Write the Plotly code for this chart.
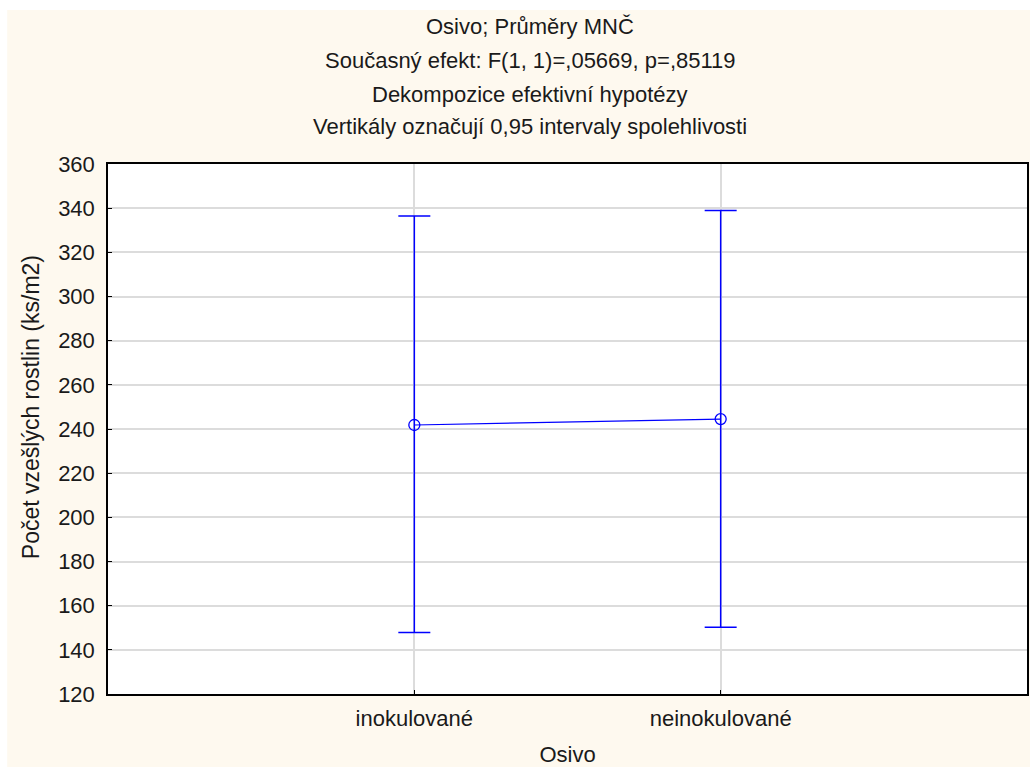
import plotly.graph_objects as go

categories = ["inokulované", "neinokulované"]
means = [241.8, 244.5]
ci_lower = [147.8, 150.2]
ci_upper = [336.5, 339.0]
yticks = [120, 140, 160, 180, 200, 220, 240, 260, 280, 300, 320, 340, 360]

title_lines = [
    "Osivo; Průměry MNČ",
    "Současný efekt: F(1, 1)=,05669, p=,85119",
    "Dekompozice efektivní hypotézy",
    "Vertikály označují 0,95 intervaly spolehlivosti",
]
y_title = "Počet vzešlých rostlin (ks/m2)"
x_title = "Osivo"

BLUE = "#0000FF"
BEIGE = "#FEF9EF"
FONT = "Liberation Sans, Arial, sans-serif"
TXT = "#1a1a1a"

xpos = list(range(len(categories)))
fig = go.Figure()
fig.add_trace(go.Scatter(
    x=xpos, y=means, mode="lines+markers",
    line=dict(color=BLUE, width=1.2),
    marker=dict(symbol="circle-open", size=11, color=BLUE, line=dict(width=1.3)),
    error_y=dict(type="data", symmetric=False,
                 array=[u - m for u, m in zip(ci_upper, means)],
                 arrayminus=[m - l for m, l in zip(means, ci_lower)],
                 color=BLUE, thickness=1.5, width=16),
    showlegend=False,
))

W, H = 1030, 767
L, R, T, B = 108, 1, 164, 73
pw, ph = W - L - R, H - T - B

def px2x(p):
    return (p - L) / pw

def px2y(p):
    return (H - B - p) / ph

shapes = [
    dict(type="rect", xref="paper", yref="paper", layer="below",
         x0=px2x(7), x1=px2x(1040), y0=px2y(780), y1=px2y(10),
         fillcolor=BEIGE, line=dict(width=0)),
    dict(type="rect", xref="paper", yref="paper", layer="below",
         x0=0, x1=1, y0=0, y1=1, fillcolor="white", line=dict(width=0)),
]

annotations = []
line_y = [27, 61, 94, 127]
for txt, yy in zip(title_lines, line_y):
    annotations.append(dict(
        text=txt, xref="paper", yref="paper", x=px2x(531), y=px2y(yy),
        xanchor="center", yanchor="middle", showarrow=False,
        font=dict(family=FONT, size=22, color=TXT),
    ))
annotations.append(dict(
    text=y_title, xref="paper", yref="paper", x=px2x(31), y=px2y(407),
    xanchor="center", yanchor="middle", textangle=-90, showarrow=False,
    font=dict(family=FONT, size=23, color=TXT),
))

fig.update_layout(
    width=W, height=H,
    margin=dict(l=L, r=R, t=T, b=B, pad=0),
    paper_bgcolor="white", plot_bgcolor="white",
    shapes=shapes, annotations=annotations,
    font=dict(family=FONT, size=22, color=TXT),
)
fig.update_xaxes(
    range=[-1, 2], tickmode="array", tickvals=xpos, ticktext=categories,
    showgrid=True, gridcolor="#DCDCDC", gridwidth=1.5,
    showline=True, linecolor="black", linewidth=1.5, mirror=True,
    ticks="inside", ticklen=4, tickcolor="black",
    tickfont=dict(family=FONT, size=22, color=TXT),
    ticklabelstandoff=4,
    title=dict(text=x_title, font=dict(family=FONT, size=22, color=TXT), standoff=19),
    zeroline=False, fixedrange=True,
)
fig.update_yaxes(
    range=[120, 360], tickmode="array", tickvals=yticks,
    showgrid=True, gridcolor="#DCDCDC", gridwidth=1.5,
    showline=True, linecolor="black", linewidth=1.5, mirror=True,
    ticks="inside", ticklen=4, tickcolor="black",
    tickfont=dict(family=FONT, size=22, color=TXT),
    ticklabelstandoff=7,
    zeroline=False, fixedrange=True,
)

fig.write_html("out.html")
